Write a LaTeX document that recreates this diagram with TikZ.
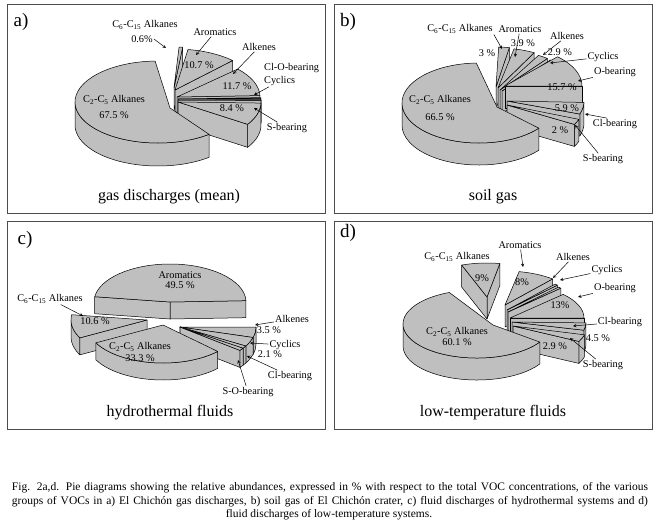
\documentclass[tikz,border=0pt]{standalone}
\usepackage{fontspec}
\setmainfont{Liberation Serif}

\tikzset{
  slicefill/.style={fill=black!25, draw=black, line width=0.5pt, line join=round},
  lbl/.style={font=\fontsize{10.3}{11}\selectfont, inner sep=1pt},
  ttl/.style={font=\fontsize{16}{18}\selectfont},
  tag/.style={font=\fontsize{19}{20}\selectfont},
  capline/.style={font=\fontsize{11.5}{13}\selectfont, inner sep=0pt},
  panel/.style={draw=black!70, line width=0.9pt},
  pointer/.style={-stealth, line width=0.5pt}
}

\newcommand\pieRx{80}
\newcommand\pieRy{40}
\newcommand\pieD{20}

% rim of the slice between \angLo and \angHi
\newcommand\pierim{%
  \filldraw[slicefill] ({\pieRx*cos(\angLo)},{\pieRy*sin(\angLo)})
    arc[start angle=\angLo, end angle=\angHi, x radius=\pieRx, y radius=\pieRy]
    -- ++(0,-\pieD)
    arc[start angle=\angHi, end angle=\angLo, x radius=\pieRx, y radius=\pieRy] -- cycle;}

% cut face at one angle
\newcommand\pieface[1]{%
  \filldraw[slicefill] (ap) -- ({\pieRx*cos(#1)},{\pieRy*sin(#1)}) -- ++(0,-\pieD) -- (apd) -- cycle;}

% [apex shift]{cx}{cy}{from}{to}
\newcommand\pieslice[5][0,0]{%
  \begin{scope}[shift={(#2,#3)}]
    \coordinate (ap) at (#1);
    \coordinate (apd) at ([yshift=-\pieD pt]ap);
    \pgfmathsetmacro\angLo{max(#4,180)}%
    \pgfmathsetmacro\angHi{min(#5,360)}%
    \ifdim\angLo pt<\angHi pt \pierim\fi
    \pgfmathsetmacro\angLo{max(#4,-180)}%
    \pgfmathsetmacro\angHi{min(#5,0)}%
    \ifdim\angLo pt<\angHi pt \pierim\fi
    \pgfmathtruncatemacro\faceOn{cos(#4)>0.02}%
    \ifnum\faceOn=1 \pieface{#4}\fi
    \pgfmathtruncatemacro\faceOn{cos(#5)<-0.02}%
    \ifnum\faceOn=1 \pieface{#5}\fi
    \filldraw[slicefill] (ap) -- ({\pieRx*cos(#4)},{\pieRy*sin(#4)})
      arc[start angle=#4, end angle=#5, x radius=\pieRx, y radius=\pieRy] -- cycle;
  \end{scope}}

\begin{document}
\begin{tikzpicture}[x=1pt, y=1pt]
  \fill[white] (0,0) rectangle (659,-528);
  \useasboundingbox (0,0) rectangle (659,-528);

  \foreach \x/\y in {7/-4.5, 334/-4.5, 7/-221, 334/-221}
    \draw[panel] (\x,\y) rectangle +(318,-208.5);

  % a) gas discharges
  \begin{scope}
    \def\pieRx{83}\def\pieRy{41}\def\pieD{23}
    \pieslice{174}{-88}{84}{86.5}
    \pieslice{175}{-90}{46}{81}
    \pieslice{177}{-97}{2}{43}
    \pieslice{178}{-99}{0.8}{2}
    \pieslice{178}{-100}{-0.5}{0.8}
    \pieslice{178}{-102}{-33}{-1.5}
    \pieslice[12,-6]{158}{-102}{92}{308}
  \end{scope}
  \node[tag] (a-tag) at (21,-22) {a)};
  \node[lbl] (a-c6) at (145,-25) {C\textsubscript{6}-C\textsubscript{15} Alkanes};
  \node[lbl] (a-c6v) at (142,-39) {0.6\%};
  \node[lbl] (a-aro) at (215,-32) {Aromatics};
  \node[lbl] (a-arov) at (199,-65) {10.7 \%};
  \node[lbl] (a-alk) at (259,-47) {Alkenes};
  \node[lbl] (a-alkv) at (237,-86) {11.7 \%};
  \node[lbl, anchor=west] (a-clo) at (263,-68) {Cl-O-bearing};
  \node[lbl, anchor=west] (a-cyc) at (263,-81) {Cyclics};
  \node[lbl] (a-sv) at (232,-108) {8.4 \%};
  \node[lbl] (a-s) at (287,-128) {S-bearing};
  \node[lbl] (a-c2) at (114,-100) {C\textsubscript{2}-C\textsubscript{5} Alkanes};
  \node[lbl] (a-c2v) at (114,-115) {67.5 \%};
  \node[ttl] (a-ttl) at (169,-197) {gas discharges (mean)};
  \coordinate (a-c6t) at (166,-48);
  \coordinate (a-arot) at (196,-55);
  \coordinate (a-alkt) at (233,-74);
  \coordinate (a-cyct) at (254,-95);
  \coordinate (a-st) at (254,-108);
  \draw[pointer] (a-c6v.east) -- (a-c6t);
  \draw[pointer] (a-aro) -- (a-arot);
  \draw[pointer] (a-alk) -- (a-alkt);
  \draw[pointer] (a-cyc) -- (a-cyct);
  \draw[pointer] (a-s) -- (a-st);

  % b) soil gas
  \begin{scope}
    \def\pieRx{77}\def\pieRy{40}\def\pieD{22}
    \pieslice{496}{-87}{80}{88}
    \pieslice{498}{-88}{62}{78}
    \pieslice{500}{-90}{52}{60}
    \pieslice{502}{-91}{49}{51}
    \pieslice{505}{-86}{0}{47}
    \pieslice{507}{-101}{-19}{-2}
    \pieslice{507}{-105}{-29}{-21}
    \pieslice[18,-4]{479}{-103}{92}{321}
  \end{scope}
  \node[tag] (b-tag) at (348,-22) {b)};
  \node[lbl] (b-c6) at (460,-29) {C\textsubscript{6}-C\textsubscript{15} Alkanes};
  \node[lbl] (b-aro) at (520,-29) {Aromatics};
  \node[lbl] (b-c6v) at (487,-53) {3 \%};
  \node[lbl] (b-arov) at (523,-43) {3.9 \%};
  \node[lbl] (b-alk) at (567,-36) {Alkenes};
  \node[lbl] (b-alkv) at (560,-52) {2.9 \%};
  \node[lbl] (b-cyc) at (603,-57) {Cyclics};
  \node[lbl] (b-o) at (615,-72) {O-bearing};
  \node[lbl] (b-ov) at (562,-87) {15.7 \%};
  \node[lbl] (b-clv) at (567,-108) {5.9 \%};
  \node[lbl] (b-cl) at (615,-124) {Cl-bearing};
  \node[lbl] (b-sv) at (560,-130) {2 \%};
  \node[lbl] (b-s) at (603,-159) {S-bearing};
  \node[lbl] (b-c2) at (440,-100) {C\textsubscript{2}-C\textsubscript{5} Alkanes};
  \node[lbl] (b-c2v) at (440,-117) {66.5 \%};
  \node[ttl] (b-ttl) at (493,-197) {soil gas};
  \coordinate (b-c6t) at (502,-49);
  \coordinate (b-arot) at (515,-57);
  \coordinate (b-alkt) at (543,-55);
  \coordinate (b-cyct) at (550,-63);
  \coordinate (b-ot) at (578,-81);
  \coordinate (b-clt) at (585,-114);
  \coordinate (b-st) at (575,-125);
  \draw[pointer] (b-c6.south east) -- (b-c6t);
  \draw[pointer] (b-aro) -- (b-arot);
  \draw[pointer] (b-alk) -- (b-alkt);
  \draw[pointer] (b-cyc) -- (b-cyct);
  \draw[pointer] (b-o) -- (b-ot);
  \draw[pointer] ([xshift=-8pt]b-cl.north) -- (b-clt);
  \draw[pointer] (b-s) -- (b-st);

  % c) hydrothermal fluids
  \begin{scope}
    \def\pieRx{76}\def\pieRy{38}\def\pieD{17}
    \pieslice{170}{-302}{2}{172}
    \pieslice{180}{-327}{-16}{0}
    \pieslice{180}{-327}{-30}{-16}
    \pieslice{180}{-327}{-34}{-30}
    \pieslice{180}{-327}{-38}{-34}
    \pieslice{147}{-320}{172}{208}
    \pieslice{163}{-325}{208}{316}
  \end{scope}
  \node[tag] (c-tag) at (25,-240) {c)};
  \node[lbl] (c-aro) at (180,-275) {Aromatics};
  \node[lbl] (c-arov) at (180,-285) {49.5 \%};
  \node[lbl] (c-c6) at (50,-299) {C\textsubscript{6}-C\textsubscript{15} Alkanes};
  \node[lbl] (c-c6v) at (95,-321) {10.6 \%};
  \node[lbl] (c-c2) at (140,-347) {C\textsubscript{2}-C\textsubscript{5} Alkanes};
  \node[lbl] (c-c2v) at (140,-358) {33.3 \%};
  \node[lbl] (c-alk) at (292,-319) {Alkenes};
  \node[lbl] (c-alkv) at (269,-330) {3.5 \%};
  \node[lbl] (c-cyc) at (285,-345) {Cyclics};
  \node[lbl] (c-cycv) at (270,-354) {2.1 \%};
  \node[lbl] (c-cl) at (290,-376) {Cl-bearing};
  \node[lbl] (c-so) at (248,-392) {S-O-bearing};
  \node[ttl] (c-ttl) at (170,-413) {hydrothermal fluids};
  \coordinate (c-c6t) at (83,-316);
  \coordinate (c-alkt) at (255,-325);
  \coordinate (c-cyct) at (250,-343);
  \coordinate (c-clt) at (247,-356);
  \coordinate (c-sot) at (238,-360);
  \draw[pointer] (c-c6) -- (c-c6t);
  \draw[pointer] (c-alk) -- (c-alkt);
  \draw[pointer] (c-cyc) -- (c-cyct);
  \draw[pointer] (c-cl) -- (c-clt);
  \draw[pointer] (c-so) -- (c-sot);

  % d) low-temperature fluids
  \begin{scope}
    \def\pieRx{74}\def\pieRy{34}\def\pieD{22}
    \pieslice{487}{-297}{80}{110}
    \pieslice{505}{-305}{50}{79}
    \pieslice{507}{-310}{47}{49.5}
    \pieslice{508}{-312}{44.5}{47}
    \pieslice{510}{-318}{0}{44}
    \pieslice{512}{-322}{-14}{-1.5}
    \pieslice{513}{-326}{-27}{-15}
    \pieslice[16,-1]{477}{-324}{112}{328}
  \end{scope}
  \node[tag] (d-tag) at (348,-233) {d)};
  \node[lbl] (d-c6) at (457,-257) {C\textsubscript{6}-C\textsubscript{15} Alkanes};
  \node[lbl] (d-c6v) at (482,-278) {9\%};
  \node[lbl] (d-aro) at (520,-245) {Aromatics};
  \node[lbl] (d-arov) at (522,-282) {8\%};
  \node[lbl] (d-alk) at (573,-257) {Alkenes};
  \node[lbl] (d-cyc) at (607,-270) {Cyclics};
  \node[lbl] (d-o) at (615,-288) {O-bearing};
  \node[lbl] (d-ov) at (560,-305) {13\%};
  \node[lbl] (d-cl) at (620,-322) {Cl-bearing};
  \node[lbl] (d-clv) at (598,-338) {4.5 \%};
  \node[lbl] (d-sv) at (555,-346) {2.9 \%};
  \node[lbl] (d-s) at (603,-365) {S-bearing};
  \node[lbl] (d-c2) at (457,-332) {C\textsubscript{2}-C\textsubscript{5} Alkanes};
  \node[lbl] (d-c2v) at (457,-342) {60.1 \%};
  \node[ttl] (d-ttl) at (493,-413) {low-temperature fluids};
  \coordinate (d-arot) at (523,-267);
  \coordinate (d-alkt) at (553,-278);
  \coordinate (d-cyct) at (560,-280);
  \coordinate (d-ot) at (578,-297);
  \coordinate (d-clt) at (573,-326);
  \coordinate (d-st) at (570,-338);
  \draw[pointer] (d-aro) -- (d-arot);
  \draw[pointer] (d-alk) -- (d-alkt);
  \draw[pointer] (d-cyc) -- (d-cyct);
  \draw[pointer] (d-o) -- (d-ot);
  \draw[pointer] (d-cl) -- (d-clt);
  \draw[pointer] (d-s) -- (d-st);

  % caption
  \node[capline] (cap1) at (330,-488) {\makebox[636pt][s]{Fig. 2a,d. Pie diagrams showing the relative abundances, expressed in \% with respect to the total VOC concentrations, of the various}};
  \node[capline] (cap2) at (330,-501.5) {\makebox[636pt][s]{groups of VOCs in a) El Chichón gas discharges, b) soil gas of El Chichón crater, c) fluid discharges of hydrothermal systems and d)}};
  \node[capline] (cap3) at (329,-515) {fluid discharges of low-temperature systems.};
\end{tikzpicture}
\end{document}
